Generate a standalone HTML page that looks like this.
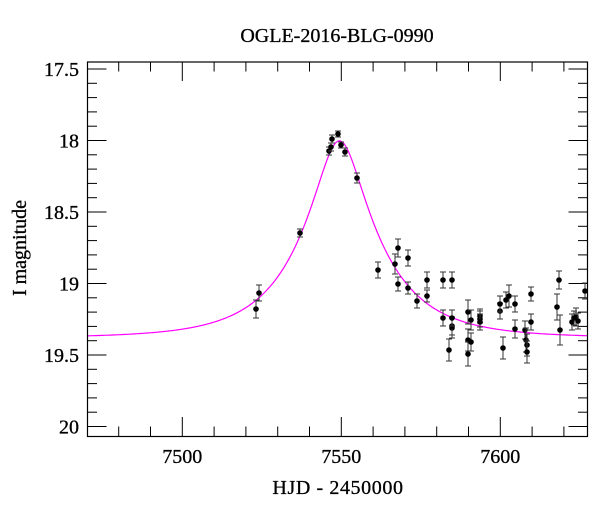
<!DOCTYPE html>
<html><head><style>body{margin:0;background:#fff}svg{display:block}text{font-family:"Liberation Serif",serif;fill:#000}</style></head>
<body>
<svg id="s" width="600" height="512" xmlns="http://www.w3.org/2000/svg">
<rect x="0" y="0" width="600" height="512" fill="#fff"/>
<text x="337" y="42" font-size="20" text-anchor="middle" stroke="#000" stroke-width="0.3">OGLE-2016-BLG-0990</text>
<text x="338" y="494" font-size="20" text-anchor="middle" letter-spacing="0.6" stroke="#000" stroke-width="0.3">HJD - 2450000</text>
<text transform="translate(26,248) rotate(-90)" font-size="20" text-anchor="middle" stroke="#000" stroke-width="0.3">I magnitude</text>
<g id="g"></g>
<rect x="87.5" y="62" width="500" height="374.5" fill="none" stroke="#000" stroke-width="1.2"/>
</svg>
<script>
const NS="http://www.w3.org/2000/svg",g=document.getElementById('g');
const XT=d=>182.3+(d-7500)*3.18, X=d=>189+(d-7500)*3.07, Y=m=>69+(m-17.5)*143;
function el(t,a,txt){const e=document.createElementNS(NS,t);for(const k in a)e.setAttribute(k,a[k]);if(txt!==undefined)e.textContent=txt;g.appendChild(e);return e;}
for(let d=7480;d<=7620;d+=10){const x=XT(d),maj=d%50==0,l=maj?19:9.5;
el('line',{x1:x,x2:x,y1:436,y2:436-l,stroke:'#000'});el('line',{x1:x,x2:x,y1:62,y2:62+l,stroke:'#000'});
if(maj)el('text',{x:x,y:463,'font-size':20,'text-anchor':'middle',stroke:'#000','stroke-width':0.3},d);}
for(let i=0;i<=25;i++){const m=17.5+i*0.1,y=Y(m),maj=i%5==0,l=maj?19:9.5;
el('line',{x1:87.5,x2:87.5+l,y1:y,y2:y,stroke:'#000'});el('line',{x1:587.5,x2:587.5-l,y1:y,y2:y,stroke:'#000'});
if(maj){let s=(Math.round(m*10)/10).toString();el('text',{x:79,y:y+7,'font-size':20,'text-anchor':'end',stroke:'#000','stroke-width':0.3},s);}}
let p='';const u0=0.29,tE=25.4,t0=7549,base=19.38;
for(let x=88;x<=587;x+=1){const d=7500+(x-189)/3.07,u=Math.sqrt(u0*u0+((d-t0)/tE)**2),A=(u*u+2)/(u*Math.sqrt(u*u+4));
p+=(p?'L':'M')+x+','+Y(base-2.5*Math.log10(A)).toFixed(1);}
el('path',{d:p,fill:'none',stroke:'#f0f',"stroke-width":1.2});
const pts=[[256,309,9],[259,293,8],[300,233,4],[329,151,4],[331,147,4],[332,139,4],[338,134,3],[341,145,3],[345,152,4],[357,178,5],
[378,270,8],[395,264,10],[398,248,9],[398,284,7],[408,258,8],[408,288,6],[417,301,7],[427,280,8],[427,296,6],[443,280,8],[443,318,8],[452,280,8],[449,350,11],[452,328,10],[452,326,9],[452,318,8],[468,312,12],[468,340,11],[468,354,12],[471,320,10],[471,342,9],[480,319,8],[480,316,7],[480,322,8],[500,311,8],[500,304,8],[503,348,11],[506,300,8],[509,296,11],[515,304,8],[515,329,9],[525,330,9],[526,340,12],[527,345,11],[527,352,11],[531,322,8],[531,294,7],[557,307,13],[559,280,9],[560,330,15],[572,322,8],[574,318,7],[576,317,9],[578,321,8],[585,291,8]];
for(const [x,y,e] of pts){el('line',{x1:x,x2:x,y1:y-e,y2:y+e,stroke:'#333'});el('line',{x1:x-3,x2:x+3,y1:y-e,y2:y-e,stroke:'#333'});el('line',{x1:x-3,x2:x+3,y1:y+e,y2:y+e,stroke:'#333'});el('circle',{cx:x,cy:y,r:2.8,fill:'#000'});}
</script>
</body></html>
